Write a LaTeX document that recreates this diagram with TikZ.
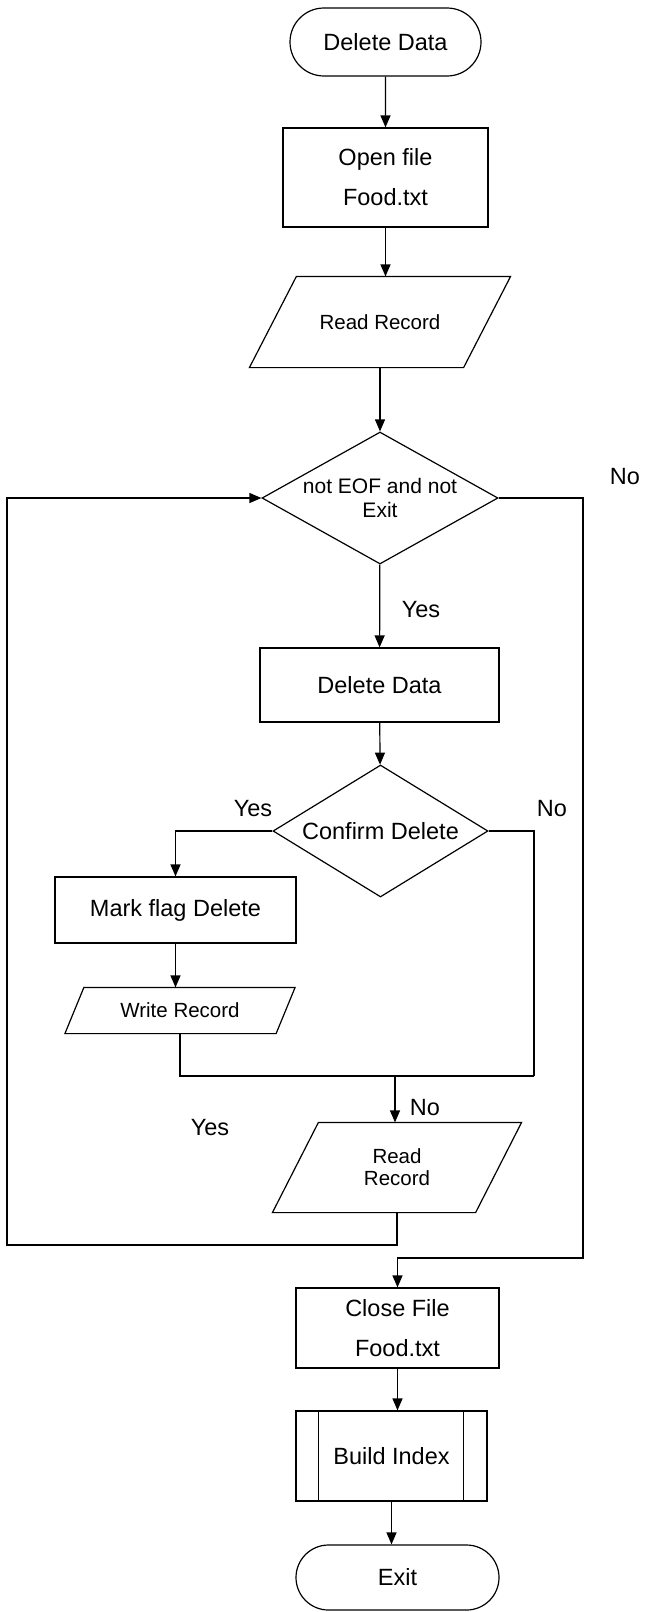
\documentclass[tikz,border=0pt]{standalone}
\usepackage{fontspec}
\setmainfont{Liberation Sans}
\usepackage{tikz}
\usetikzlibrary{arrows.meta, shapes.geometric, shapes.misc}

\begin{document}
\begin{tikzpicture}[x=1pt, y=-1pt, line width=1.2pt, >={Triangle[width=10pt, length=12pt]}]
        \useasboundingbox (0,0) rectangle (650,1612);
        \tikzstyle{BigText} = [font=\fontsize{23.5}{40}\selectfont]
        \tikzstyle{SmallText} = [font=\fontsize{20.5}{22}\selectfont]
        \tikzstyle{Term} = [draw, rounded rectangle, inner sep=0pt, BigText]
        \tikzstyle{Proc} = [draw, rectangle, inner sep=0pt, align=center, BigText]
        \tikzstyle{Cond} = [draw, diamond, inner sep=0pt, align=center]
        \tikzstyle{Lbl} = [inner sep=0pt, BigText]
        \tikzset{Data/.style={rectangle, inner sep=0pt, align=center, SmallText,
            append after command={\pgfextra{\draw ([xshift=#1]\tikzlastnode.north west) -- ([xshift=#1]\tikzlastnode.north east)
            -- ([xshift=-#1]\tikzlastnode.south east) -- ([xshift=-#1]\tikzlastnode.south west) -- cycle;}}}}
        \node[Term, minimum width=191pt, minimum height=68pt] (start) at (385.5,42) {Delete Data};
        \node[Proc, minimum width=205pt, minimum height=99pt] (open) at (385.5,177.5) {Open file\\Food.txt};
        \node[Data=23.5pt, minimum width=213pt, minimum height=90pt] (read1) at (380,322) {Read Record};
        \node[Cond, minimum width=236pt, minimum height=132pt, aspect=1.8, font=\fontsize{21}{24}\selectfont] (dec1) at (380,498) {not EOF and not\\Exit};
        \node[Proc, minimum width=239pt, minimum height=74pt] (del) at (379.5,685) {Delete Data};
        \node[Cond, minimum width=215pt, minimum height=132pt, aspect=1.63, BigText] (dec2) at (380.5,831) {Confirm Delete};
        \node[Proc, minimum width=241pt, minimum height=66pt] (mark) at (175.5,910) {Mark flag Delete};
        \node[Data=9.5pt, minimum width=210pt, minimum height=45pt] (write) at (180,1010.5) {Write Record};
        \node[Data=23pt, minimum width=202pt, minimum height=89pt] (read2) at (397,1167.5) {Read\\Record};
        \node[Proc, minimum width=203pt, minimum height=80pt] (close) at (397.5,1328) {Close File\\Food.txt};
        \node[Proc, minimum width=191pt, minimum height=90pt] (build) at (391.5,1456) {Build Index};
        \node[Term, minimum width=203pt, minimum height=65pt] (exit) at (397.5,1577.5) {Exit};
        \draw ([xshift=23pt]build.north west) -- ([xshift=23pt]build.south west);
        \draw ([xshift=-24pt]build.north east) -- ([xshift=-24pt]build.south east);
        \node[Lbl] (no1) at (625,477) {No};
        \node[Lbl] (yes1) at (421,610) {Yes};
        \node[Lbl] (yes2) at (253,809) {Yes};
        \node[Lbl] (no2) at (552,809) {No};
        \node[Lbl] (no3) at (425,1108) {No};
        \node[Lbl] (yes3) at (210,1128) {Yes};
        \coordinate (jn) at (395,1076);
        \coordinate (rt2) at (534,1076);
        \coordinate (lb) at (7,1245);
        \coordinate (rb) at (583,1258);
        \draw[->] (start) -- (open);
        \draw[->] (open.south) -- (open.south |- read1.north);
        \draw[->] (read1) -- (dec1);
        \draw[->] (dec1) -- (del);
        \draw[->] (del) -- (dec2);
        \draw[->] (dec2.west) -| (mark.north);
        \draw[->] (mark) -- (mark.south |- write.north);
        \draw (dec2.east) -| (rt2);
        \draw[line width=2pt] (write.south) |- (rt2);
        \draw[->] (jn) -- (jn |- read2.north);
        \draw[->] (read2.south) |- (lb) |- (dec1.west);
        \draw[->] (dec1.east) -| (rb) -| (close.north);
        \draw[->] (close.south) -- (close.south |- build.north);
        \draw[->] (build.south) -- (build.south |- exit.north);
\end{tikzpicture}
\end{document}
